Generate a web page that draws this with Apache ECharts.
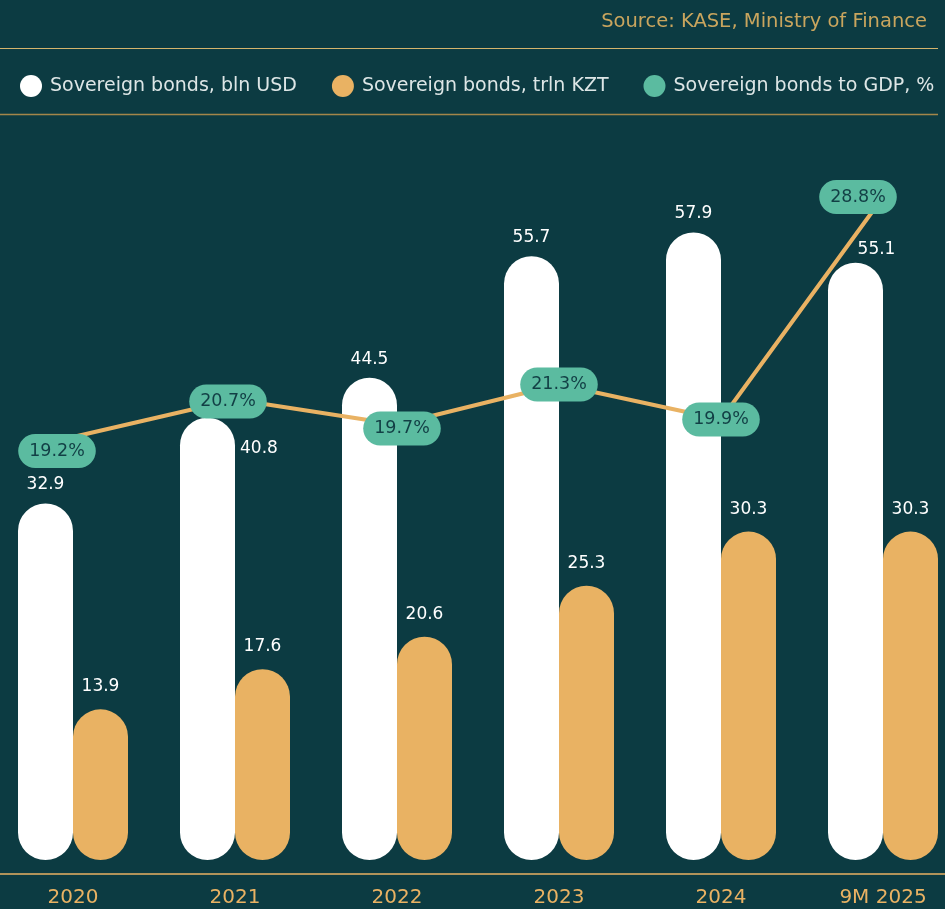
<!DOCTYPE html>
<html>
<head>
<meta charset="utf-8">
<script src="https://cdn.jsdelivr.net/npm/echarts@6/dist/echarts.min.js"></script>
<style>
html,body{margin:0;padding:0;background:#0c3b42;overflow:hidden;width:945px;height:909px;position:relative;}
#chart{position:absolute;left:-8px;top:0;width:972px;height:909px;}
</style>
</head>
<body>
<div id="chart"></div>
<script>
var categories = ['2020', '2021', '2022', '2023', '2024', '9M 2025'];
var bondsUsd = [32.9, 40.8, 44.5, 55.7, 57.9, 55.1];
var bondsKzt = [13.9, 17.6, 20.6, 25.3, 30.3, 30.3];
var bondsGdp = [19.2, 20.7, 19.7, 21.3, 19.9, 28.8];
var seriesNames = ['Sovereign bonds, bln USD', 'Sovereign bonds, trln KZT', 'Sovereign bonds to GDP, %'];
var sourceText = 'Source: KASE, Ministry of Finance';

var FONT = '"DejaVu Sans", sans-serif';
var WHITE = '#ffffff', ORANGE = '#e9b263', GREEN = '#5bbba0', BG = '#0c3b42';
var OX = 8; // container is shifted 8px left of the page

var chart = echarts.init(document.getElementById('chart'));

var usdLabelTweaks = { 1: { position: [60, 22] }, 5: { offset: [21, 5] } };
var gdpLabelTweaks = { 0: { offset: [-16, 14] }, 1: { offset: [-7, 2] }, 2: { offset: [5, 4] }, 5: { offset: [-25, 0] } };

var usdData = bondsUsd.map(function (v, i) {
  var d = { value: v };
  if (usdLabelTweaks[i]) d.label = usdLabelTweaks[i];
  return d;
});
var gdpData = bondsGdp.map(function (v, i) {
  var d = { value: v };
  if (gdpLabelTweaks[i]) d.label = gdpLabelTweaks[i];
  return d;
});

chart.setOption({
  backgroundColor: BG,
  textStyle: { fontFamily: FONT },
  animation: false,
  graphic: [
    { type: 'text', right: 18 + 19, top: 12, style: { text: sourceText, fill: '#c9a55e', font: '19.5px ' + FONT } },
    { type: 'line', shape: { x1: OX, y1: 48.5, x2: 938 + OX, y2: 48.5 }, style: { stroke: '#d4b46c', lineWidth: 1.2 } },
    { type: 'line', shape: { x1: OX, y1: 114.5, x2: 938 + OX, y2: 114.5 }, style: { stroke: '#a4864a', lineWidth: 1.5 } }
  ],
  legend: {
    left: 20 + OX, top: 75,
    padding: 0,
    icon: 'circle',
    itemWidth: 22, itemHeight: 22,
    itemGap: 35,
    textStyle: { color: '#dde6e6', fontSize: 19, fontFamily: FONT, padding: [0, 0, 0, 3] },
    data: [
      { name: seriesNames[0], itemStyle: { color: WHITE } },
      { name: seriesNames[1], itemStyle: { color: ORANGE } },
      { name: seriesNames[2], itemStyle: { color: GREEN } }
    ]
  },
  grid: { left: 0, right: 0, top: 120, bottom: 35, containLabel: false },
  xAxis: {
    type: 'category',
    data: categories,
    axisLine: { onZero: false, lineStyle: { color: ORANGE, width: 1.5 } },
    axisTick: { show: false },
    axisLabel: { color: ORANGE, fontSize: 20, fontWeight: 500, margin: 14, fontFamily: FONT },
    splitLine: { show: false }
  },
  yAxis: [
    { type: 'value', min: -1.29, max: 68.27, show: false, splitLine: { show: false } },
    { type: 'value', min: 1.72, max: 31.88, show: false, splitLine: { show: false } }
  ],
  series: [
    {
      name: seriesNames[0], type: 'bar', data: usdData,
      barWidth: 55, barGap: '0%',
      itemStyle: { color: WHITE, borderRadius: 27.5 },
      label: { show: true, position: 'top', distance: 10, color: WHITE, fontSize: 17, fontFamily: FONT },
      z: 2
    },
    {
      name: seriesNames[1], type: 'bar', data: bondsKzt,
      barWidth: 55, barGap: '0%',
      itemStyle: { color: ORANGE, borderRadius: 27.5 },
      label: { show: true, position: 'top', distance: 14, color: WHITE, fontSize: 17, fontFamily: FONT },
      z: 2
    },
    {
      name: seriesNames[2], type: 'line', yAxisIndex: 1, data: gdpData,
      symbol: 'circle', symbolSize: 2, showSymbol: true,
      lineStyle: { color: ORANGE, width: 4 },
      itemStyle: { color: ORANGE },
      label: {
        show: true, position: 'inside', formatter: '{c}%',
        backgroundColor: GREEN, color: '#123f45', fontSize: 17.5, fontFamily: FONT,
        padding: [8, 11], borderRadius: 17
      },
      z: 5
    }
  ]
});
</script>
</body>
</html>
